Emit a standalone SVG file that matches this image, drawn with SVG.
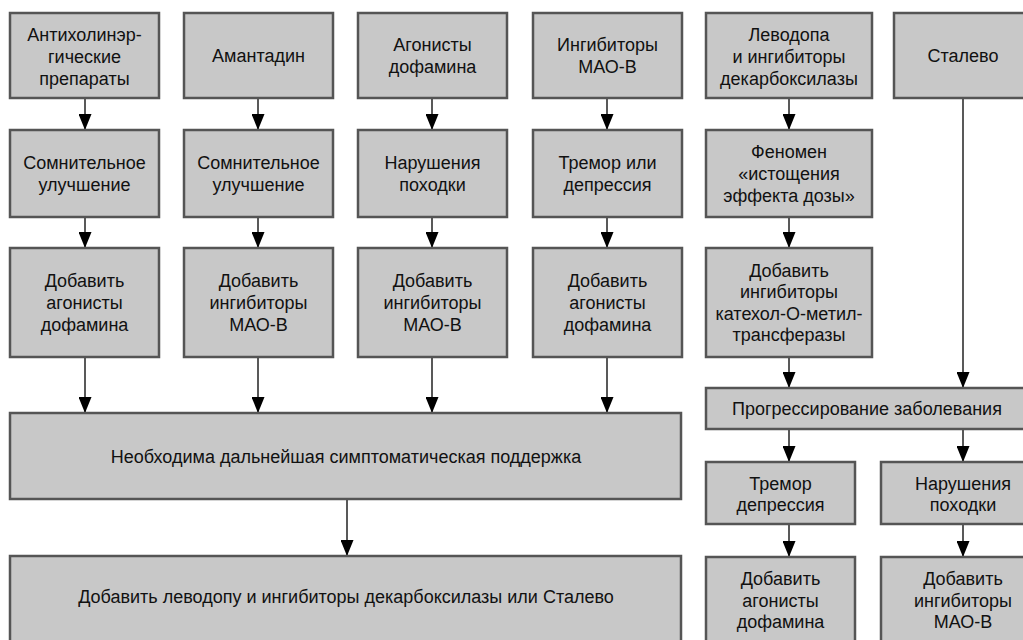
<svg xmlns="http://www.w3.org/2000/svg" width="1023" height="640" viewBox="0 0 1023 640">
<style>
.box{fill:#c8c8c8;stroke:#555;stroke-width:2.5}
text{font-family:"Liberation Sans",Arial,sans-serif;font-size:18px;fill:#111;text-anchor:middle}
.c{stroke:#222;stroke-width:1.5;fill:none;marker-end:url(#ah)}
</style>
<defs>
<marker id="ah" viewBox="0 0 16 13" refX="16" refY="6.5" markerWidth="16" markerHeight="13" markerUnits="userSpaceOnUse" orient="auto">
<path d="M0,0 L16,6.5 L0,13 z" fill="#000"/>
</marker>
</defs>
<rect width="1023" height="640" fill="#fff"/>
<g id="connectors">
<path class="c" d="M85,98 V130"/>
<path class="c" d="M258,98 V130"/>
<path class="c" d="M432,98 V130"/>
<path class="c" d="M607,98 V130"/>
<path class="c" d="M789,98 V130"/>
<path class="c" d="M85,217 V248"/>
<path class="c" d="M258,217 V248"/>
<path class="c" d="M432,217 V248"/>
<path class="c" d="M607,217 V248"/>
<path class="c" d="M789,217 V248"/>
<path class="c" d="M85,357 V413"/>
<path class="c" d="M258,357 V413"/>
<path class="c" d="M432,357 V413"/>
<path class="c" d="M607,357 V413"/>
<path class="c" d="M789,357 V388"/>
<path class="c" d="M963,98 V388"/>
<path class="c" d="M789,429 V462"/>
<path class="c" d="M963,429 V462"/>
<path class="c" d="M789,524 V557"/>
<path class="c" d="M963,524 V557"/>
<path class="c" d="M347,499 V556"/>
</g>
<g id="n1"><rect class="box" x="10" y="13" width="149" height="85"/><text x="84.5" y="41">Антихолинэр-</text><text x="84.5" y="63">гические</text><text x="84.5" y="85">препараты</text></g>
<g id="n2"><rect class="box" x="184" y="13" width="149" height="85"/><text x="258.5" y="62">Амантадин</text></g>
<g id="n3"><rect class="box" x="358" y="13" width="149" height="85"/><text x="432.5" y="51">Агонисты</text><text x="432.5" y="73">дофамина</text></g>
<g id="n4"><rect class="box" x="533" y="13" width="149" height="85"/><text x="607.5" y="51">Ингибиторы</text><text x="607.5" y="73">МАО-В</text></g>
<g id="n5"><rect class="box" x="706" y="13" width="166" height="85"/><text x="789" y="41">Леводопа</text><text x="789" y="63">и ингибиторы</text><text x="789" y="85">декарбоксилазы</text></g>
<g id="n6"><rect class="box" x="894" y="13" width="140" height="85"/><text x="963" y="62">Сталево</text></g>
<g id="n7"><rect class="box" x="10" y="130" width="149" height="87"/><text x="84.5" y="169">Сомнительное</text><text x="84.5" y="191">улучшение</text></g>
<g id="n8"><rect class="box" x="184" y="130" width="149" height="87"/><text x="258.5" y="169">Сомнительное</text><text x="258.5" y="191">улучшение</text></g>
<g id="n9"><rect class="box" x="358" y="130" width="149" height="87"/><text x="432.5" y="169">Нарушения</text><text x="432.5" y="191">походки</text></g>
<g id="n10"><rect class="box" x="533" y="130" width="149" height="87"/><text x="607.5" y="169">Тремор или</text><text x="607.5" y="191">депрессия</text></g>
<g id="n11"><rect class="box" x="706" y="130" width="166" height="87"/><text x="789" y="158">Феномен</text><text x="789" y="180">«истощения</text><text x="789" y="202">эффекта дозы»</text></g>
<g id="n12"><rect class="box" x="10" y="248" width="149" height="109"/><text x="84.5" y="287">Добавить</text><text x="84.5" y="309">агонисты</text><text x="84.5" y="331">дофамина</text></g>
<g id="n13"><rect class="box" x="184" y="248" width="149" height="109"/><text x="258.5" y="287">Добавить</text><text x="258.5" y="309">ингибиторы</text><text x="258.5" y="331">МАО-В</text></g>
<g id="n14"><rect class="box" x="358" y="248" width="149" height="109"/><text x="432.5" y="287">Добавить</text><text x="432.5" y="309">ингибиторы</text><text x="432.5" y="331">МАО-В</text></g>
<g id="n15"><rect class="box" x="533" y="248" width="149" height="109"/><text x="607.5" y="287">Добавить</text><text x="607.5" y="309">агонисты</text><text x="607.5" y="331">дофамина</text></g>
<g id="n16"><rect class="box" x="706" y="248" width="166" height="109"/><text x="789" y="277">Добавить</text><text x="789" y="298">ингибиторы</text><text x="789" y="320">катехол-О-метил-</text><text x="789" y="341">трансферазы</text></g>
<g id="n17"><rect class="box" x="706" y="388" width="328" height="41"/><text x="867" y="415">Прогрессирование заболевания</text></g>
<g id="n18"><rect class="box" x="10" y="413" width="671" height="86"/><text x="346" y="463">Необходима дальнейшая симптоматическая поддержка</text></g>
<g id="n19"><rect class="box" x="706" y="462" width="149" height="62"/><text x="780.5" y="490">Тремор</text><text x="780.5" y="511">депрессия</text></g>
<g id="n20"><rect class="box" x="881" y="462" width="153" height="62"/><text x="963" y="490">Нарушения</text><text x="963" y="511">походки</text></g>
<g id="n21"><rect class="box" x="10" y="556" width="671" height="95"/><text x="346" y="603">Добавить леводопу и ингибиторы декарбоксилазы или Сталево</text></g>
<g id="n22"><rect class="box" x="706" y="557" width="149" height="95"/><text x="780.5" y="585">Добавить</text><text x="780.5" y="607">агонисты</text><text x="780.5" y="628">дофамина</text></g>
<g id="n23"><rect class="box" x="881" y="557" width="153" height="95"/><text x="963" y="585">Добавить</text><text x="963" y="607">ингибиторы</text><text x="963" y="628">МАО-В</text></g>
</svg>
